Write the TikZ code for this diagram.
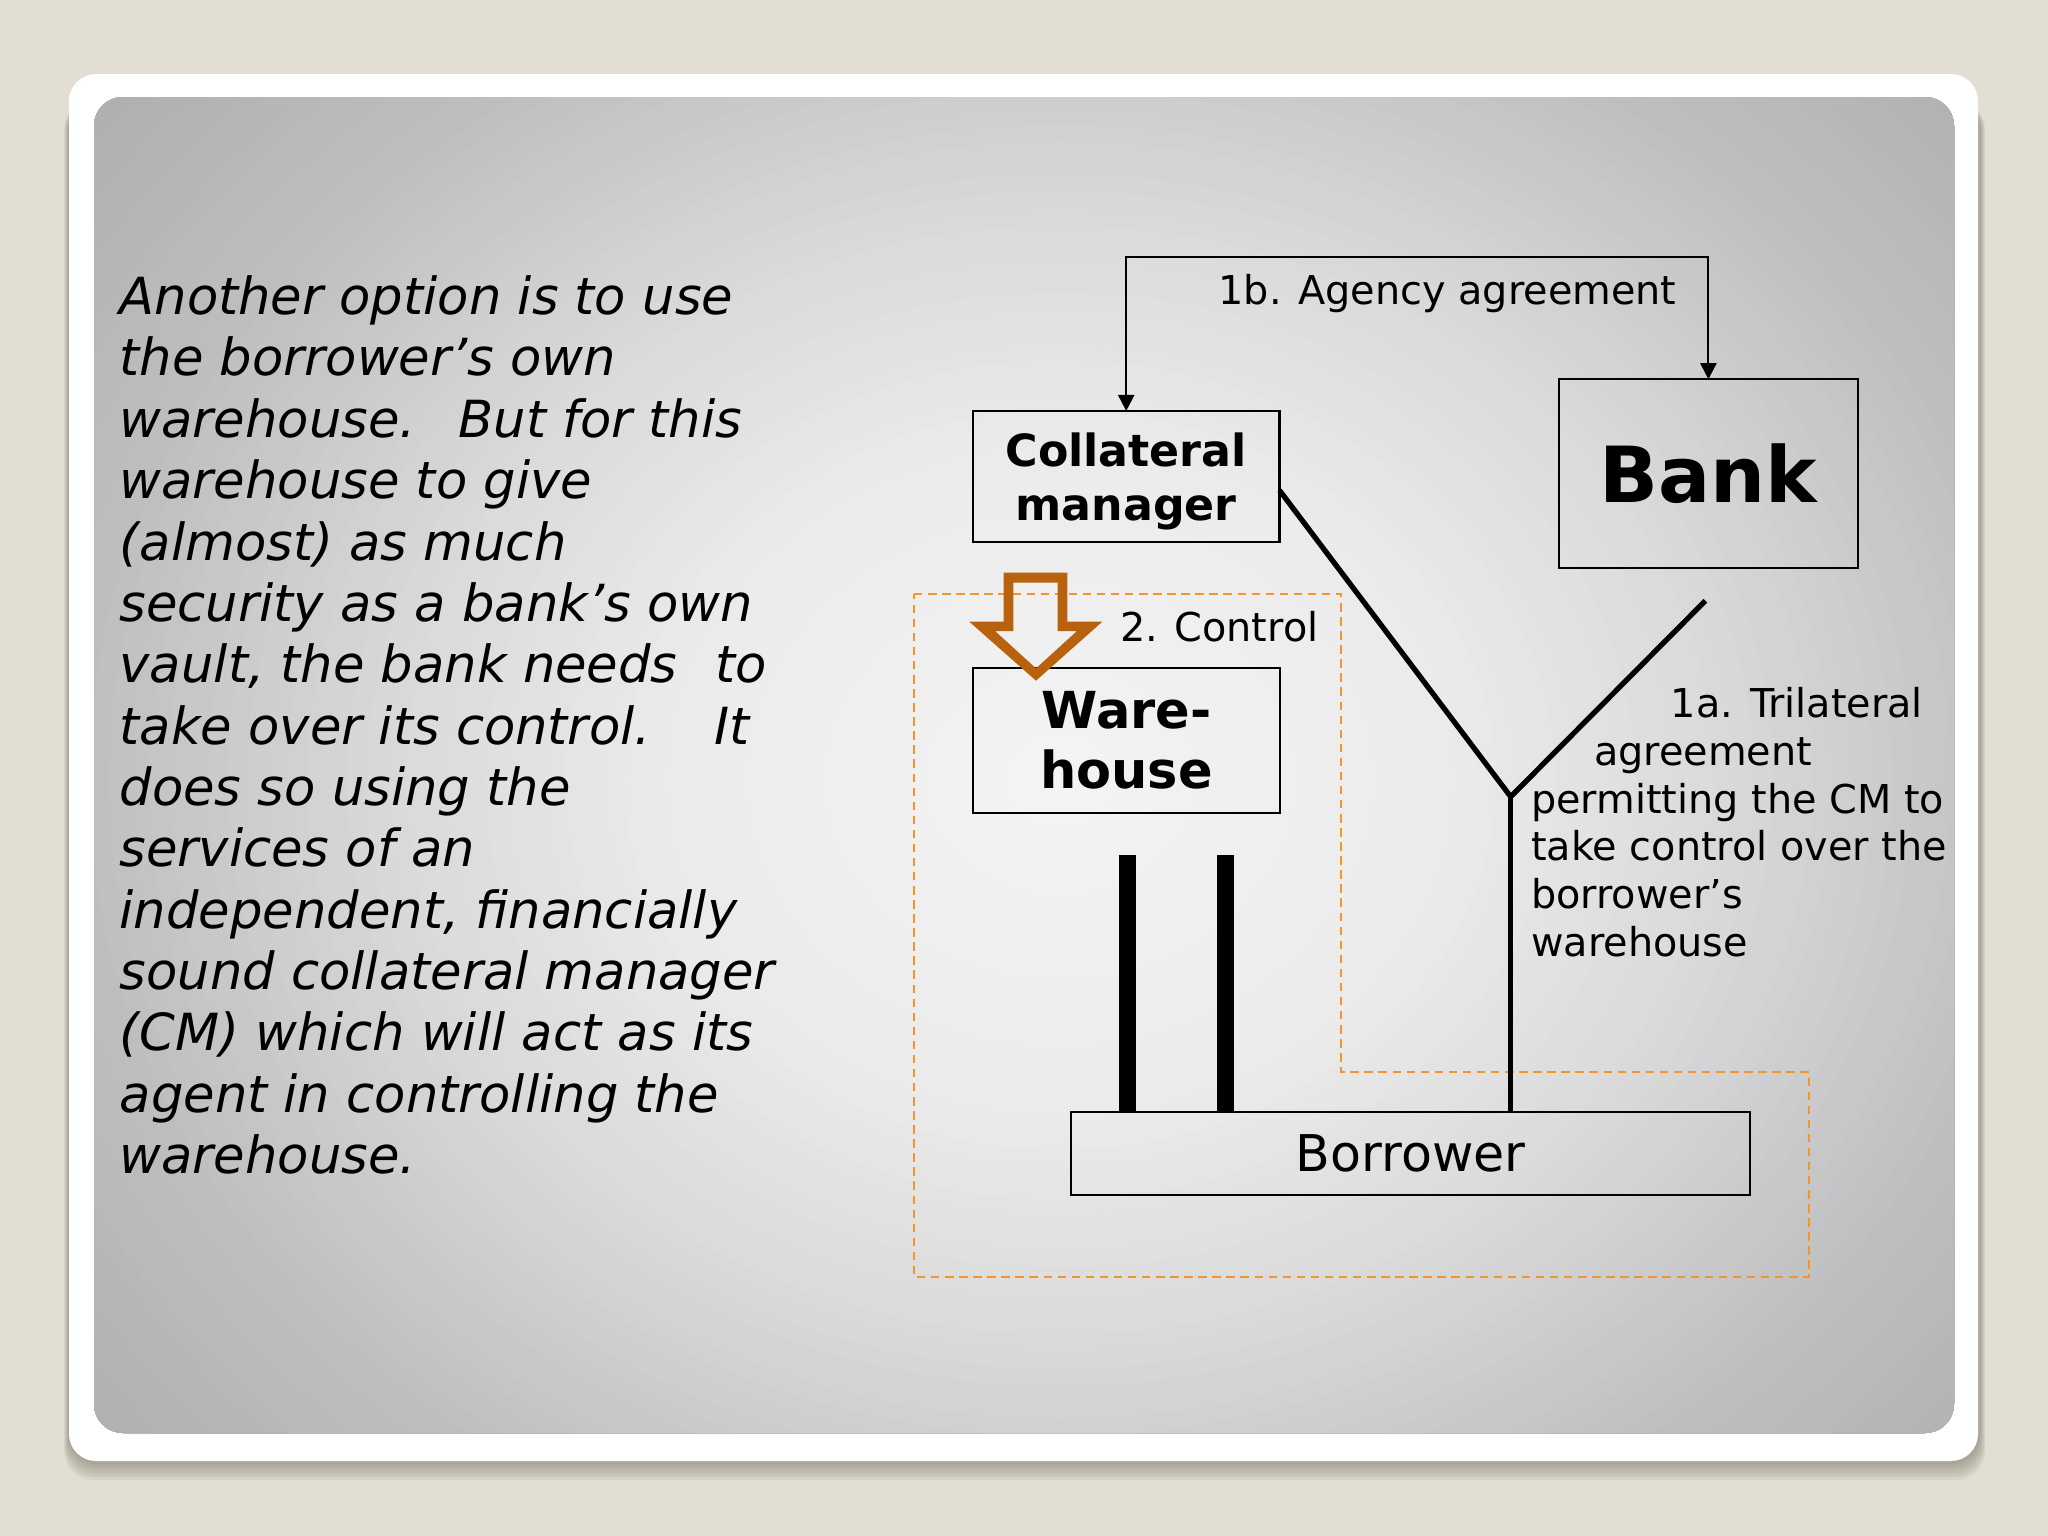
\documentclass[tikz,border=0pt]{standalone}
\usepackage{fontspec}
\setmainfont{DejaVu Sans}
\usetikzlibrary{arrows.meta}
\definecolor{pagebg}{HTML}{E2DED3}
\definecolor{shadowc}{HTML}{6F6B5C}
\definecolor{pc0}{HTML}{F4F4F5}
\definecolor{pc1}{HTML}{EBEBEC}
\definecolor{pc2}{HTML}{D8D8D9}
\definecolor{pc3}{HTML}{BEBEC0}
\definecolor{pc4}{HTML}{A6A6A8}
\definecolor{dashorange}{HTML}{F2962C}
\definecolor{arrowbrown}{HTML}{B8620E}
\tikzset{
  box/.style={draw=black, line width=0.6pt, inner sep=0pt, outer sep=0pt},
  lbl/.style={font=\fontsize{11.3}{13.57}\selectfont, inner sep=0pt},
  agency/.style={draw=black, line width=0.6pt, {Triangle[length=4.6pt,width=4.6pt]}-{Triangle[length=4.6pt,width=4.6pt]}},
  yline/.style={draw=black, line width=1.5pt, line join=miter},
  bar/.style={draw=black, line width=4.8pt},
  ctrlzone/.style={draw=dashorange, line width=0.8pt, dash pattern=on 2.4pt off 1.6pt}
}
\newcommand{\glow}[1]{\fill[#1] (gc) ellipse [x radius={\s*0.198cm}, y radius={\s*0.168cm}];}
\begin{document}
\begin{tikzpicture}[x=0.01cm,y=-0.01cm]
\useasboundingbox (0,0) rectangle (2048,1536);
\fill[pagebg] (0,0) rectangle (2048,1536);
% shadow
\foreach \k in {1,...,6} {
  \fill[shadowc, opacity=0.1, rounded corners=0.3cm] ({69-\k*0.8},100) rectangle ({1979+\k*1.0},{1461+\k*3.2});
}
% white frame and shaded panel
\fill[white, rounded corners=0.27cm] (69,74) rectangle (1978,1461);
\coordinate (gc) at (1060,780);
\begin{scope}
  \clip[rounded corners=0.29cm] (94,97) rectangle (1954,1433);
  \fill[pc4] (94,97) rectangle (1954,1433);
  \foreach \s in {72,71,...,50} { \pgfmathsetmacro\p{(\s-50)/22*100} \glow{pc4!\p!pc3} }
  \foreach \s in {49,48,...,35} { \pgfmathsetmacro\p{(\s-35)/15*100} \glow{pc3!\p!pc2} }
  \foreach \s in {34,33,...,20} { \pgfmathsetmacro\p{(\s-20)/15*100} \glow{pc2!\p!pc1} }
  \foreach \s in {19,18,...,1} { \pgfmathsetmacro\p{\s/20*100} \glow{pc1!\p!pc0} }
\end{scope}

% left text
\node[anchor=north west, inner sep=0pt, align=left, font=\itshape\fontsize{14.55}{17.45}\selectfont] (lefttext) at (119,275)
{Another option is to use\\
the borrower’s own\\
warehouse.\hspace{0.83em}But for this\\
warehouse to give\\
(almost) as much\\
security as a bank’s own\\
vault, the bank needs\hspace{0.75em}to\\
take over its control.\hspace{1.25em}It\\
does so using the\\
services of an\\
independent, financially\\
sound collateral manager\\
(CM) which will act as its\\
agent in controlling the\\
warehouse.};

% control zone
\draw[ctrlzone] (914,594) -- (1341,594) -- (1341,1072) -- (1809,1072) -- (1809,1277) -- (914,1277) -- cycle;

% boxes
\node[box, minimum width=3.065cm, minimum height=1.307cm, align=center, font=\bfseries\fontsize{12.6}{15.2}\selectfont] (cm) at (1126.2,476.4) {\rule{0pt}{12.4pt}Collateral\\manager};
\node[box, minimum width=2.99cm, minimum height=1.884cm, font=\bfseries\fontsize{22}{26}\selectfont] (bank) at (1708.4,473.5) {Bank};
\node[box, minimum width=3.073cm, minimum height=1.45cm, align=center, font=\bfseries\fontsize{14.5}{17}\selectfont] (wh) at (1126.4,740.2) {Ware-\\house};
\node[box, minimum width=6.79cm, minimum height=0.833cm, font=\fontsize{14.4}{17}\selectfont] (borrower) at (1410.5,1153.4) {Borrower};

% agency agreement connector
\coordinate (agtop) at (0,256.7);
\draw[agency] (cm.north) -- (cm.north |- agtop) -- (bank.north |- agtop) -- (bank.north);
\node[lbl, anchor=base] (aglabel) at (1447.5,304) {1b. Agency agreement};

% trilateral Y
\coordinate (yj) at (1510.7,796.7);
\coordinate (ybank) at (1705.4,600.7);
\draw[yline] ([yshift=-0.14cm]cm.east) -- (yj) -- (ybank);
\draw[yline] (yj) -- (yj |- borrower.north);
\node[lbl, anchor=north west, align=left] (trilabel) at (1530.6,686.8)
{\hspace*{39.7pt}1a. Trilateral\\
\hspace*{17.9pt}agreement\\
permitting the CM to\\
take control over the\\
borrower’s\\
warehouse};

% warehouse bars
\coordinate (b1) at (1127.6,855);
\coordinate (b2) at (1225.5,855);
\draw[bar] (b1) -- (b1 |- borrower.north);
\draw[bar] (b2) -- (b2 |- borrower.north);

% control arrow (hollow block arrow)
\fill[arrowbrown, even odd rule]
  (1003.7,572.7) -- (1067.3,572.7) -- (1067.3,621.7) -- (1102.3,621.7) -- (1036,680.7) -- (969.3,621.7) -- (1003.7,621.7) -- cycle
  (1013.3,582.7) -- (1057.7,582.7) -- (1057.7,631) -- (1077,631) -- (1036,668.3) -- (995,631) -- (1013.3,631) -- cycle;
\node[lbl, anchor=base] (ctrllabel) at (1219.2,641.7) {2. Control};
\end{tikzpicture}
\end{document}
